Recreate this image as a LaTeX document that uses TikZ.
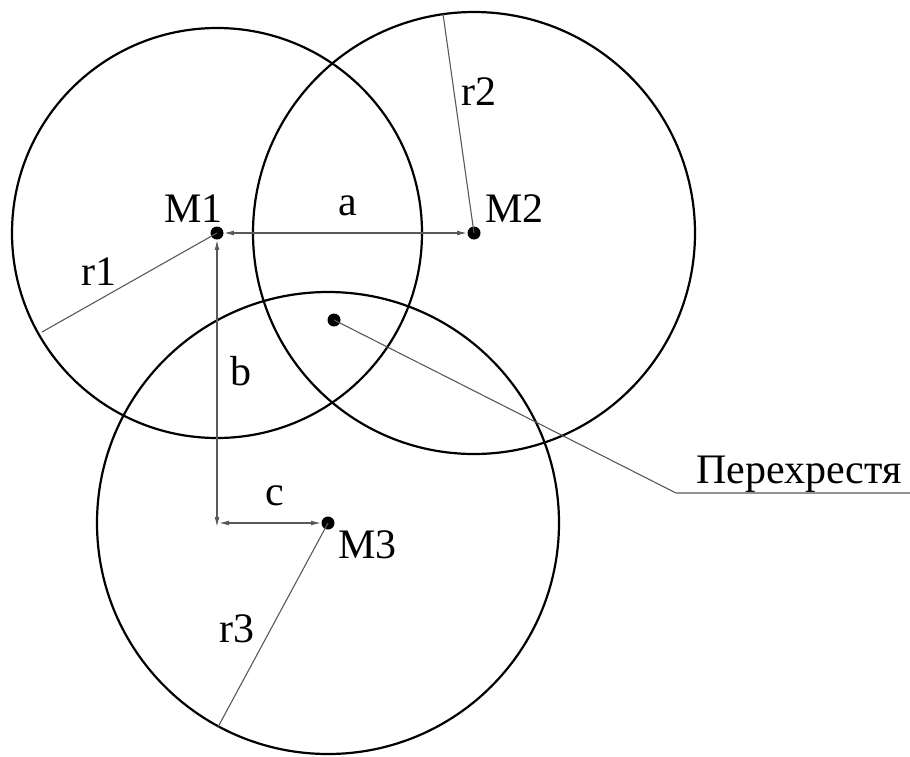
\documentclass[tikz,border=0pt]{standalone}
\usepackage{fontspec}
\setmainfont{Liberation Serif}
\usetikzlibrary{arrows.meta}
\begin{document}
\begin{tikzpicture}[x=0.5pt,y=-0.5pt,
  ring/.style={draw=black,line width=1.1pt},
  thin/.style={draw=black!65,line width=0.55pt},
  dim/.style={draw=black!65,line width=0.55pt,{Latex[length=5pt,width=2.4pt]}-{Latex[length=5pt,width=2.4pt]}},
  dot/.style={circle,fill=black,inner sep=0pt,minimum size=6.5pt},
  lbl/.style={inner sep=0pt,anchor=base,font=\fontsize{21}{25}\selectfont}]
\useasboundingbox (0,0) rectangle (910,756);
% centres
\node[dot] (M1) at (217,233) {};
\node[dot] (M2) at (474,233) {};
\node[dot] (M3) at (328,523) {};
\node[dot] (X) at (334,320) {};
\coordinate (K) at (217,523);
% circles
\draw[ring] (M1.center) circle[radius=205];
\draw[ring] (M2.center) circle[radius=221];
\draw[ring] (M3.center) circle[radius=231];
% radii
\coordinate (R1) at (42,332);
\coordinate (R2) at (443,14);
\coordinate (R3) at (218,727);
\draw[thin] (M1.center) -- (R1);
\draw[thin] (M2.center) -- (R2);
\draw[thin] (M3.center) -- (R3);
% dimensions
\draw[dim] (M1) -- (M2);
\draw[dim] (M1) -- ([yshift=-2]K);
\draw[dim] ([xshift=1]K) -- (M3);
% leader
\coordinate (L1) at (676,493);
\coordinate (L2) at (910,493);
\draw[thin] (X.center) -- (L1) -- (L2);
% labels
\node[lbl,anchor=base west] (tM1) at (164,222) {M1};
\node[lbl,anchor=base west] (tM2) at (485,222) {M2};
\node[lbl,anchor=base west] (tM3) at (338,558) {M3};
\node[lbl] (ta) at (348,215) {a};
\node[lbl] (tb) at (241,385) {b};
\node[lbl] (tc) at (275,505) {c};
\node[lbl] (tr1) at (99,285) {r1};
\node[lbl] (tr2) at (479,105) {r2};
\node[lbl] (tr3) at (237,642) {r3};
\node[lbl] (tX) at (799,483) {Перехрестя};
\end{tikzpicture}
\end{document}
